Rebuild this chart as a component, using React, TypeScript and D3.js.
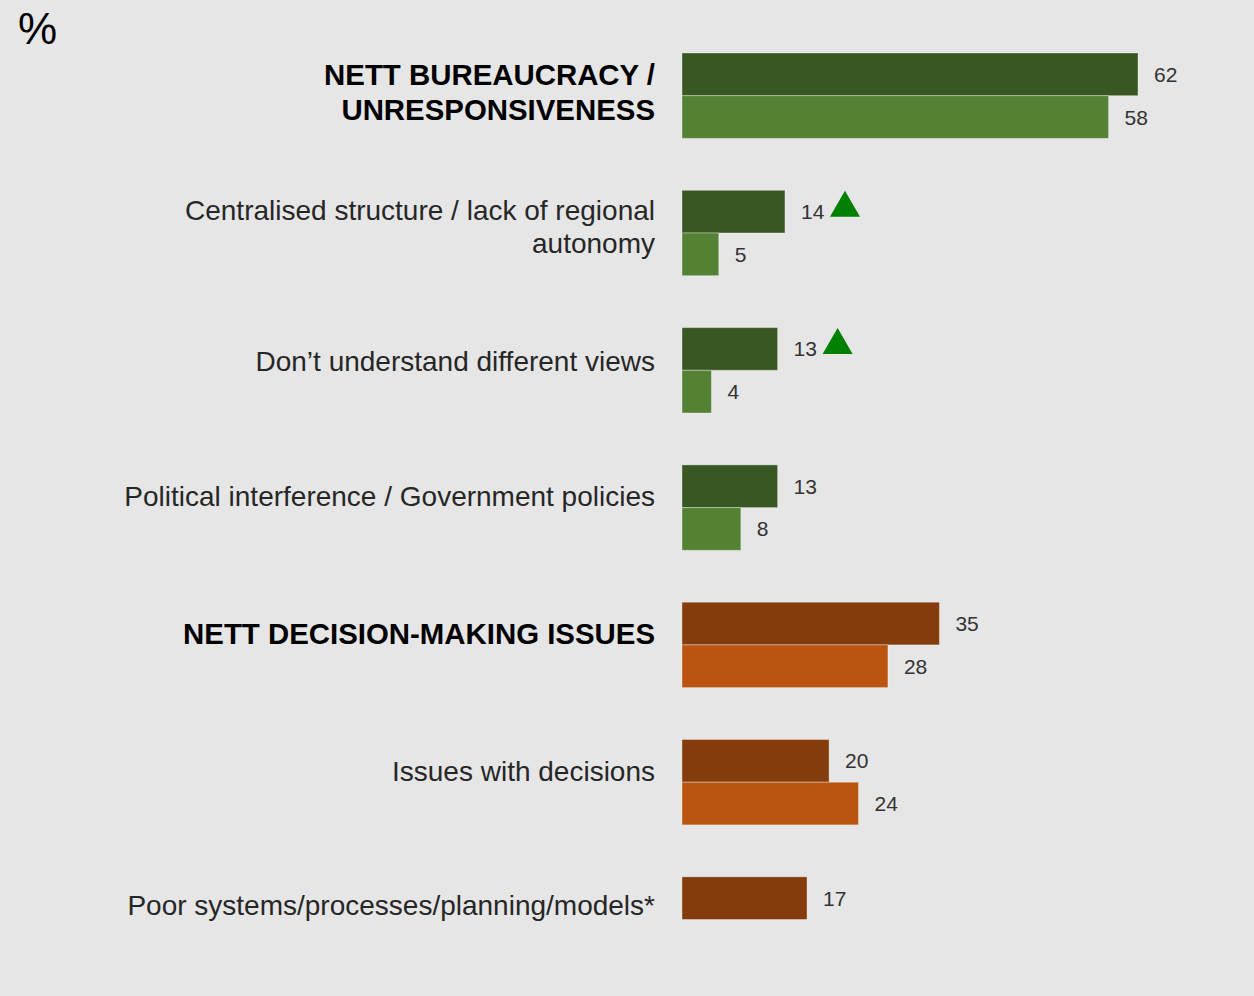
import React from "react";
import * as d3 from "d3";

const categories: string[][] = [
  ["NETT BUREAUCRACY /", "UNRESPONSIVENESS"],
  ["Centralised structure / lack of regional", "autonomy"],
  ["Don\u2019t understand different views"],
  ["Political interference / Government policies"],
  ["NETT DECISION-MAKING ISSUES"],
  ["Issues with decisions"],
  ["Poor systems/processes/planning/models*"],
];
const boldFlags = [true, false, false, false, true, false, false];
const themes = ["green", "green", "green", "green", "brown", "brown", "brown"];
const seriesA: (number | null)[] = [62, 14, 13, 13, 35, 20, 17];
const seriesB: (number | null)[] = [58, 5, 4, 8, 28, 24, null];
const significantUp = [false, true, true, false, false, false, false];

const palette: Record<string, [string, string]> = {
  green: ["#385723", "#548235"],
  brown: ["#843C0C", "#BA5511"],
};

const W = 1254;
const H = 996;
const FONT = "'Liberation Sans', Arial, sans-serif";

export default function App() {
  const x = d3.scaleLinear().domain([0, 62]).range([682, 1138]);
  const y = d3
    .scaleBand<number>()
    .domain(d3.range(categories.length))
    .range([53, 53 + 137.3 * categories.length])
    .paddingInner(0)
    .paddingOuter(0);
  const barH = 42.7;

  return (
    <svg
      width={W}
      height={H}
      style={{ position: "absolute", left: 0, top: 0, background: "#e6e6e6" }}
    >
      <rect x={0} y={0} width={W} height={H} fill="#e6e6e6" />
      <text x={18} y={44} fontFamily={FONT} fontSize={44} fill="#000">
        %
      </text>
      {categories.map((lines, i) => {
        const top = y(i) as number;
        const center = top + barH;
        const vals = [seriesA[i], seriesB[i]];
        const cols = palette[themes[i]];
        const lineYs =
          lines.length === 1
            ? [center - 11 - (i === 6 ? 3 : 0) + (i === 2 ? 2 : 0)]
            : i === 0
            ? [center - 21, center + 14]
            : [center - 23, center + 10];
        return (
          <g key={i}>
            {lines.map((ln, k) => (
              <text
                key={k}
                x={655}
                y={lineYs[k]}
                textAnchor="end"
                dominantBaseline="central"
                fontFamily={FONT}
                fontSize={boldFlags[i] ? 29.4 : 28}
                fontWeight={boldFlags[i] ? "bold" : "normal"}
                fill={boldFlags[i] ? "#000" : "#262626"}
              >
                {ln}
              </text>
            ))}
            {vals.map((v, k) => {
              if (v === null || v === undefined) return null;
              const by = top + k * barH;
              const xe = x(v);
              return (
                <g key={k}>
                  <rect
                    x={x(0)}
                    y={by}
                    width={xe - x(0)}
                    height={barH}
                    fill={cols[k]}
                    stroke="rgba(255,255,255,0.35)"
                    strokeWidth={1}
                  />
                  <text
                    x={xe + 16}
                    y={by + barH / 2}
                    dominantBaseline="central"
                    fontFamily={FONT}
                    fontSize={21}
                    fill="#333"
                  >
                    {v}
                  </text>
                  {k === 0 && significantUp[i] && (
                    <path
                      d={d3.line()([
                        [xe + 16 + 29, by + barH / 2 + 5],
                        [xe + 16 + 44, by + barH / 2 - 21],
                        [xe + 16 + 59, by + barH / 2 + 5],
                      ]) + "Z"}
                      fill="#008000"
                    />
                  )}
                </g>
              );
            })}
          </g>
        );
      })}
    </svg>
  );
}
